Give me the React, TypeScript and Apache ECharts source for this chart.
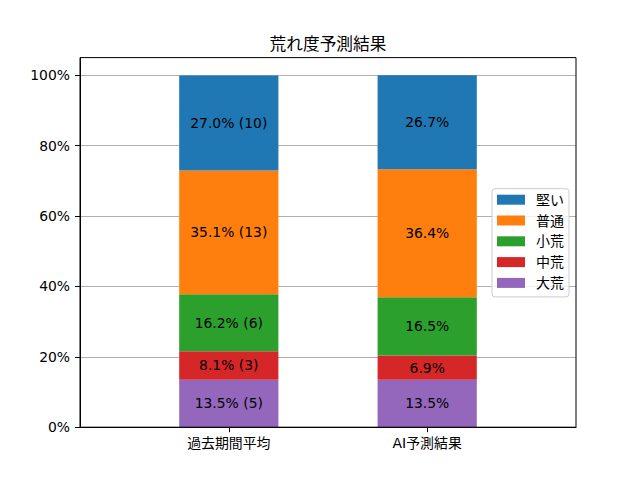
import React, { useEffect, useRef } from "react";
import * as echarts from "echarts";

const categories = ["過去期間平均", "AI予測結果"];
const seriesNames = ["大荒", "中荒", "小荒", "普通", "堅い"];
const legendOrder = ["堅い", "普通", "小荒", "中荒", "大荒"];
const colors = ["#9467bd", "#d62728", "#2ca02c", "#ff7f0e", "#1f77b4"];
// percentages per series: [過去期間平均, AI予測結果]
const pastPct = [13.5, 8.1, 16.2, 35.1, 27.0];
const aiPct = [13.5, 6.9, 16.5, 36.4, 26.7];
const pastCounts = [5, 3, 6, 13, 10];
const yTicks = [0, 20, 40, 60, 80, 100];

const FONT = "'DejaVu Sans', 'Noto Sans CJK JP', sans-serif";

// padded category slots so the two bars sit where the reference places them
const slots = ["", categories[0], "", categories[1], ""];
const isReal = (i: number) => i === 1 || i === 3;

export default function App() {
  const ref = useRef<HTMLDivElement>(null);
  useEffect(() => {
    document.body.style.margin = "0";
    const chart = echarts.init(ref.current!, null, { renderer: "svg" });
    const series = seriesNames.map((name, i) => ({
      name,
      type: "bar",
      stack: "total",
      barWidth: "100%",
      itemStyle: { color: colors[i] },
      label: {
        show: true,
        position: "inside",
        color: "#000",
        fontSize: 13.9,
        fontFamily: FONT,
        formatter: (p: any) =>
          p.dataIndex === 1
            ? `${pastPct[i].toFixed(1)}% (${pastCounts[i]})`
            : `${aiPct[i].toFixed(1)}%`,
      },
      data: ["-", pastPct[i], "-", aiPct[i], "-"],
    }));
    chart.setOption({
      animation: false,
      textStyle: { fontFamily: FONT },
      grid: { left: 80, right: 64, top: 57.6, bottom: 52.8 },
      xAxis: {
        type: "category",
        data: slots,
        boundaryGap: true,
        axisLine: { show: true, lineStyle: { color: "#000", width: 1 } },
        axisTick: {
          show: true,
          length: 5,
          alignWithLabel: true,
          interval: (i: number) => isReal(i),
          lineStyle: { color: "#000" },
        },
        axisLabel: {
          interval: (i: number) => isReal(i),
          color: "#000",
          fontSize: 13.9,
          fontFamily: FONT,
          margin: 9,
        },
        splitLine: { show: false },
      },
      yAxis: {
        type: "value",
        min: 0,
        max: 105,
        interval: 20,
        axisLine: { show: true, onZero: false, lineStyle: { color: "#000", width: 1 } },
        axisTick: { show: true, length: 5, customValues: yTicks, lineStyle: { color: "#000" } },
        axisLabel: {
          customValues: yTicks,
          formatter: (v: number) => `${v}%`,
          color: "#000",
          fontSize: 13.9,
          fontFamily: FONT,
          margin: 10,
        },
        splitLine: { show: true, lineStyle: { color: "#b0b0b0", width: 1.1 } },
      },
      legend: {
        data: legendOrder,
        orient: "vertical",
        left: 492,
        top: 188.7,
        itemWidth: 28,
        itemHeight: 10,
        itemGap: 6.8,
        padding: [4, 5, 7, 5],
        backgroundColor: "rgba(255,255,255,0.8)",
        borderColor: "#cccccc",
        borderWidth: 1,
        borderRadius: 3,
        icon: "rect",
        textStyle: { fontSize: 14, lineHeight: 14, color: "#000", fontFamily: FONT, padding: [0, 0, 0, 6] },
      },
      graphic: [
        {
          type: "text",
          x: 328,
          y: 44,
          style: {
            text: "荒れ度予測結果",
            fontSize: 16.7,
            fontFamily: FONT,
            fill: "#000",
            textAlign: "center",
            textVerticalAlign: "middle",
          },
        },
        {
          type: "rect",
          z: 100,
          shape: { x: 80, y: 57.6, width: 496, height: 369.6 },
          style: { fill: "none", stroke: "#000", lineWidth: 1 },
          silent: true,
        },
      ],
      series,
    });
    return () => chart.dispose();
  }, []);
  return <div ref={ref} style={{ width: 640, height: 480 }} />;
}
